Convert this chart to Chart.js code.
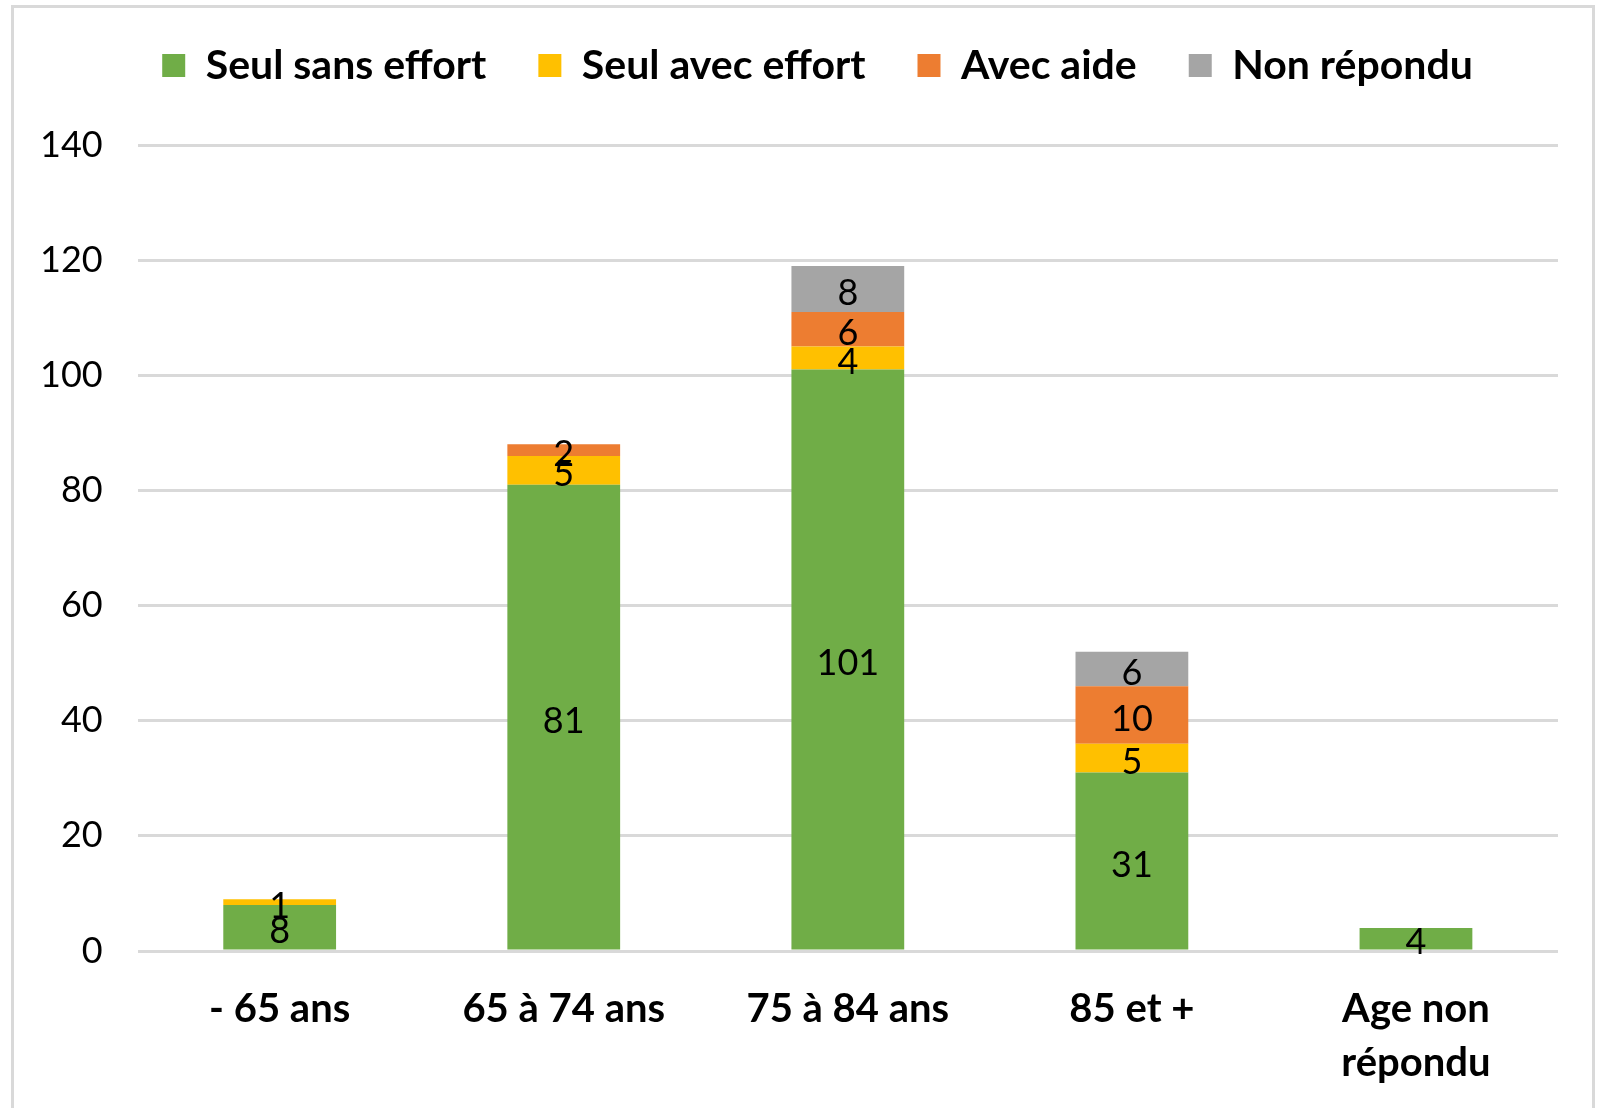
<!DOCTYPE html>
<html lang="fr">
<head>
<meta charset="UTF-8">
<title>Autonomie par âge</title>
<script src="https://cdn.jsdelivr.net/npm/chart.js"></script>
<style>
    body {
        margin: 0;
        padding: 0;
        background: #ffffff;
        font-family: Lato, sans-serif;
    }
    .cadre {
        position: absolute;
        left: 0;
        top: 0;
        width: 1601px;
        height: 1108px;
    }
    .bord {
        position: absolute;
        left: 11px;
        top: 5px;
        width: 1584px;
        height: 1110px;
        border: 3px solid #d9d9d9;
        box-sizing: border-box;
        pointer-events: none;
    }
</style>
</head>
<body>
<div class="cadre"><canvas id="graph"></canvas></div>
<div class="bord"></div>
<script>
    // données
    const categories = ["- 65 ans", "65 à 74 ans", "75 à 84 ans", "85 et +", ["Age non", "répondu"]];
    const seulSansEffort = [8, 81, 101, 31, 4];
    const seulAvecEffort = [1, 5, 4, 5, 0];
    const avecAide = [0, 2, 6, 10, 0];
    const nonRepondu = [0, 0, 8, 6, 0];
    const yTicks = [0, 20, 40, 60, 80, 100, 120, 140];

    // valeurs au milieu de chaque segment
    const valeursPlugin = {
        id: "valeurs",
        afterDatasetsDraw(chart) {
            const ctx = chart.ctx;
            ctx.save();
            ctx.font = "36px Lato";
            ctx.fillStyle = "#000000";
            ctx.textAlign = "center";
            ctx.textBaseline = "middle";
            chart.data.datasets.forEach((ds, i) => {
                const meta = chart.getDatasetMeta(i);
                meta.data.forEach((bar, j) => {
                    const v = ds.data[j];
                    if (!v) return;
                    ctx.fillText(String(v), bar.x, (bar.y + bar.base) / 2 + 4);
                });
            });
            ctx.restore();
        }
    };

    // décale la légende pour la placer comme dans l'original
    const legendePlugin = {
        id: "placeLegende",
        afterUpdate(chart) {
            const lg = chart.legend;
            lg.left += 36;
            lg.right += 36;
            lg.top -= 49;
            lg.bottom -= 49;
        }
    };

    const canvas = document.getElementById("graph");
    canvas.width = 1601;
    canvas.height = 1108;

    new Chart(canvas, {
        type: "bar",
        data: {
            labels: categories,
            datasets: [
                { label: "Seul sans effort", data: seulSansEffort, backgroundColor: "#70ad47" },
                { label: "Seul avec effort", data: seulAvecEffort, backgroundColor: "#ffc000" },
                { label: "Avec aide", data: avecAide, backgroundColor: "#ed7d31" },
                { label: "Non répondu", data: nonRepondu, backgroundColor: "#a5a5a5" }
            ]
        },
        options: {
            responsive: false,
            animation: false,
            layout: { padding: { left: 5, right: 43, top: 42, bottom: 0 } },
            datasets: { bar: { barPercentage: 0.397, categoryPercentage: 1 } },
            plugins: {
                tooltip: { enabled: false },
                legend: {
                    position: "top",
                    labels: {
                        boxWidth: 23,
                        boxHeight: 23,
                        padding: 52,
                        color: "#000000",
                        font: { family: "Lato", size: 41, weight: "bold" }
                    }
                }
            },
            scales: {
                x: {
                    stacked: true,
                    grid: { display: false },
                    border: { display: false },
                    afterFit(axis) {
                        axis.height -= 5;
                    },
                    ticks: {
                        color: "#000000",
                        padding: 23,
                        maxRotation: 0,
                        font: { family: "Lato", size: 40, weight: "bold", lineHeight: 1.35 }
                    }
                },
                y: {
                    stacked: true,
                    min: 0,
                    max: 140,
                    afterBuildTicks(axis) {
                        axis.ticks = yTicks.map(v => ({ value: v }));
                    },
                    grid: { color: "#d9d9d9", lineWidth: 3, drawTicks: false },
                    border: { display: false },
                    ticks: {
                        color: "#000000",
                        padding: 35,
                        font: { family: "Lato", size: 36 }
                    }
                }
            }
        },
        plugins: [valeursPlugin, legendePlugin]
    });
</script>
</body>
</html>
